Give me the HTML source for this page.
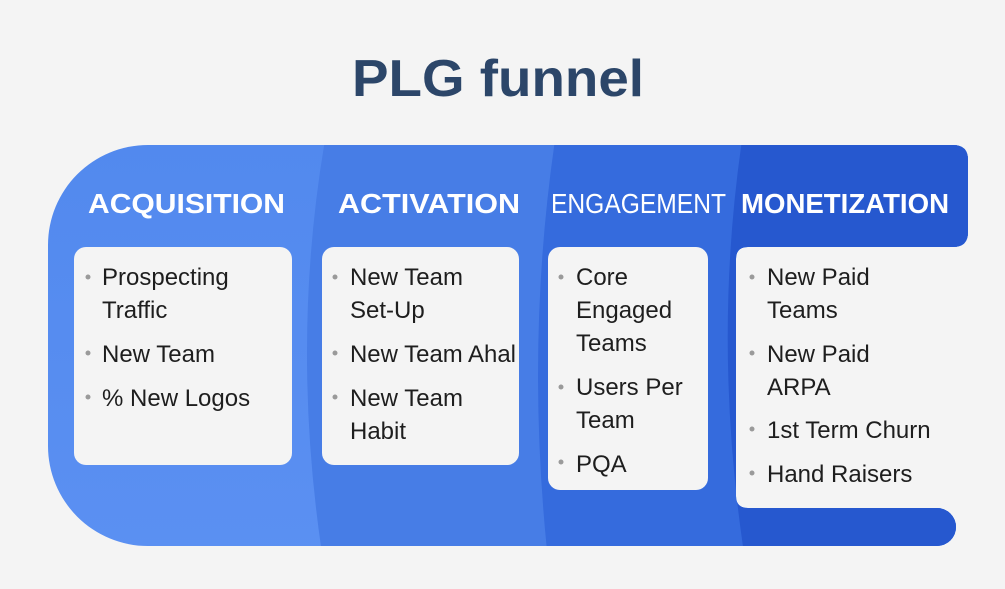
<!DOCTYPE html>
<html><head><meta charset="utf-8"><style>
html,body{margin:0;padding:0;background:#f4f4f4;}
svg{display:block;}
text{font-family:"Liberation Sans",sans-serif;}
.h{fill:#fff;font-size:28px;font-weight:bold;}
.t{fill:#1e1e1e;font-size:24px;}
.b{fill:#9a9a9a;}
</style></head><body>
<svg width="1005" height="589" viewBox="0 0 1005 589" xmlns="http://www.w3.org/2000/svg">
<defs>
<clipPath id="c"><path d="M148,145 H953 Q968,145 968,160 V232 Q968,247 953,247 H748 Q736,247 736,259 V496 Q736,508 748,508 H937 A19,19 0 0 1 937,546 H148 A100,100 0 0 1 48,446 V245 A100,100 0 0 1 148,145 Z"/></clipPath>
<linearGradient id="g1" x1="0" y1="0" x2="0" y2="1"><stop offset="0" stop-color="#5289ee"/><stop offset="1" stop-color="#5b90f2"/></linearGradient>
</defs>
<rect width="1005" height="589" fill="#f4f4f4"/>
<text x="498" y="96" text-anchor="middle" font-size="52" font-weight="bold" fill="#2c4669" textLength="292" lengthAdjust="spacingAndGlyphs" style="font-family:'Liberation Sans',sans-serif">PLG funnel</text>
<g clip-path="url(#c)">
<rect x="0" y="140" width="1005" height="420" fill="url(#g1)"/>
<path d="M325,140 Q290,345 323,560 H1005 V140 Z" fill="#477de6"/>
<path d="M555,140 Q525,345 548,560 H1005 V140 Z" fill="#356bdd"/>
<path d="M742,140 Q712,345 745,560 H1005 V140 Z" fill="#2658cf"/>
</g>
<rect x="74" y="247" width="218" height="218" rx="12" fill="#f4f4f4"/>
<rect x="322" y="247" width="197" height="218" rx="12" fill="#f4f4f4"/>
<rect x="548" y="247" width="160" height="243" rx="12" fill="#f4f4f4"/>

<text class="h" x="88" y="213" textLength="197" lengthAdjust="spacingAndGlyphs">ACQUISITION</text>
<text class="h" x="338" y="213" textLength="182" lengthAdjust="spacingAndGlyphs">ACTIVATION</text>
<text class="h" x="551" y="213" textLength="175" lengthAdjust="spacingAndGlyphs" style="font-weight:normal">ENGAGEMENT</text>
<text class="h" x="741" y="213" textLength="208" lengthAdjust="spacingAndGlyphs">MONETIZATION</text>

<g class="b">
<circle cx="88" cy="277" r="2.5"/><circle cx="88" cy="353" r="2.5"/><circle cx="88" cy="397" r="2.5"/>
<circle cx="335" cy="277" r="2.5"/><circle cx="335" cy="353" r="2.5"/><circle cx="335" cy="397" r="2.5"/>
<circle cx="561" cy="277" r="2.5"/><circle cx="561" cy="387" r="2.5"/><circle cx="561" cy="462" r="2.5"/>
<circle cx="752" cy="277" r="2.5"/><circle cx="752" cy="353" r="2.5"/><circle cx="752" cy="429" r="2.5"/><circle cx="752" cy="473" r="2.5"/>
</g>
<g class="t">
<text class="t" x="102" y="285">Prospecting</text>
<text class="t" x="102" y="318">Traffic</text>
<text class="t" x="102" y="362">New Team</text>
<text class="t" x="102" y="406">% New Logos</text>

<text class="t" x="350" y="285">New Team</text>
<text class="t" x="350" y="318">Set-Up</text>
<text class="t" x="350" y="362" textLength="166" lengthAdjust="spacingAndGlyphs">New Team Ahal</text>
<text class="t" x="350" y="406">New Team</text>
<text class="t" x="350" y="439">Habit</text>

<text class="t" x="576" y="285">Core</text>
<text class="t" x="576" y="318">Engaged</text>
<text class="t" x="576" y="351">Teams</text>
<text class="t" x="576" y="395">Users Per</text>
<text class="t" x="576" y="428">Team</text>
<text class="t" x="576" y="472">PQA</text>

<text class="t" x="767" y="285">New Paid</text>
<text class="t" x="767" y="318">Teams</text>
<text class="t" x="767" y="362">New Paid</text>
<text class="t" x="767" y="395">ARPA</text>
<text class="t" x="767" y="438">1st Term Churn</text>
<text class="t" x="767" y="482">Hand Raisers</text>
</g>
</svg>
</body></html>
